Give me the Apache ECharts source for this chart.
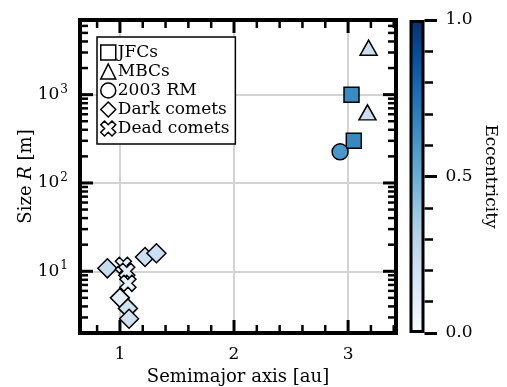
<!DOCTYPE html>
<html>
<head>
<meta charset="utf-8">
<script src="https://cdn.jsdelivr.net/npm/echarts@6/dist/echarts.min.js"></script>
<style>html,body{margin:0;padding:0;background:#fff}#c{width:507px;height:387px}</style>
</head>
<body>
<div id="c"></div>
<script>
// ---- data ----
const jfcA = [3.03, 3.05];
const jfcR = [1000, 300];
const jfcE = [0.65, 0.66];

const mbcA = [3.18, 3.17];
const mbcR = [3400, 630];
const mbcE = [0.22, 0.22];

const rmA = [2.93];
const rmR = [225];
const rmE = [0.6];

const darkA = [0.89, 1.22, 1.32, 1.0, 1.07, 1.08];
const darkR = [10.8, 14.5, 16, 5.0, 3.8, 2.9];
const darkE = [0.24, 0.22, 0.22, 0.1, 0.2, 0.2];

const deadA = [1.03, 1.06, 1.07];
const deadR = [11.7, 10, 7.3];
const deadE = [0.08, 0.1, 0.08];

const seriesNames = ['JFCs', 'MBCs', '2003 RM', 'Dark comets', 'Dead comets'];
const xMajorTicks = [1, 2, 3];
const xMinorTicks = [0.8, 1.2, 1.4, 1.6, 1.8, 2.2, 2.4, 2.6, 2.8, 3.2, 3.4];
const yMajorTicks = [10, 100, 1000];
const yMinorTicks = [2,3,4,5,6,7,8,9, 20,30,40,50,60,70,80,90, 200,300,400,500,600,700,800,900, 2000,3000,4000,5000,6000,7000];
const cbarTickLabels = ['0.0', '0.5', '1.0'];

const blues = ['#f7fbff','#deebf7','#c6dbef','#9ecae1','#6baed6','#4292c6','#2171b5','#08519c','#08306b'];

// ---- build ----
const FONT = 'DejaVu Serif';
const zip = (a, r, e) => a.map((v, i) => [v, r[i], e[i]]);
const xPath = 'path://M6 0L8 2L6 4L8 6L6 8L4 6L2 8L0 6L2 4L0 2L2 0L4 2Z';

const tickData = [];
xMajorTicks.forEach(v => tickData.push([v, 10, 0]));
xMinorTicks.forEach(v => tickData.push([v, 10, 1]));
yMajorTicks.forEach(v => tickData.push([1, v, 2]));
yMinorTicks.forEach(v => tickData.push([1, v, 3]));
tickData.push([1, 10, 4]);

function renderTicks(params, api) {
  const cs = params.coordSys;
  const kind = api.value(2);
  const p = api.coord([api.value(0), api.value(1)]);
  const s = {stroke: '#000', lineWidth: kind === 0 || kind === 2 ? 3 : 2.5};
  const L = (kind === 0 || kind === 2) ? 13 : 8;
  const top = cs.y, bot = cs.y + cs.height, lft = cs.x, rgt = cs.x + cs.width;
  const ch = [];
  if (kind === 0 || kind === 1) {
    ch.push({type: 'line', shape: {x1: p[0], y1: bot, x2: p[0], y2: bot - L}, style: s});
    ch.push({type: 'line', shape: {x1: p[0], y1: top, x2: p[0], y2: top + L}, style: s});
  } else if (kind === 2 || kind === 3) {
    ch.push({type: 'line', shape: {x1: lft, y1: p[1], x2: lft + L, y2: p[1]}, style: s});
    ch.push({type: 'line', shape: {x1: rgt, y1: p[1], x2: rgt - L, y2: p[1]}, style: s});
  } else {
    ch.push({type: 'rect', shape: {x: lft, y: top, width: cs.width, height: cs.height},
      style: {fill: 'none', stroke: '#000', lineWidth: 4}});
  }
  return {type: 'group', children: ch};
}

const scatterBase = {
  type: 'scatter', xAxisIndex: 0, yAxisIndex: 0, z: 5,
  itemStyle: {borderColor: '#000', borderWidth: 1.5, opacity: 1}
};

const chart = echarts.init(document.getElementById('c'), null, {renderer: 'canvas'});
chart.setOption({
  animation: false,
  backgroundColor: '#fff',
  textStyle: {fontFamily: FONT, color: '#000'},
  grid: [
    {left: 80, top: 20, width: 316, height: 313, outerBoundsMode: 'none', containLabel: false},
    {left: 409.5, top: 20, width: 15, height: 313, outerBoundsMode: 'none', containLabel: false}
  ],
  xAxis: [
    {
      gridIndex: 0, type: 'value', min: 0.65, max: 3.42, splitNumber: 3,
      name: 'Semimajor axis [au]', nameLocation: 'middle', nameGap: 35, nameMoveOverlap: false,
      nameTextStyle: {fontFamily: FONT, fontSize: 18, color: '#000'},
      axisLine: {show: false}, axisTick: {show: false},
      splitLine: {show: true, lineStyle: {color: '#d3d3d3', width: 2}},
      axisLabel: {
        margin: 13, fontFamily: FONT, fontSize: 17, color: '#000',
        showMinLabel: false, showMaxLabel: false,
        formatter: v => (Math.abs(v - Math.round(v)) < 1e-9 ? String(Math.round(v)) : '')
      }
    },
    {
      gridIndex: 1, type: 'category', data: ['e'], show: false
    }
  ],
  yAxis: [
    {
      gridIndex: 0, type: 'log', logBase: 10, min: 2, max: 7000,
      name: '{a|Size }{i|R}{a| [m]}', nameLocation: 'middle', nameGap: 45, nameRotate: 90,
      nameMoveOverlap: false,
      nameTextStyle: {
        rich: {
          a: {fontFamily: FONT, fontSize: 18, color: '#000'},
          i: {fontFamily: FONT, fontSize: 18, fontStyle: 'italic', color: '#000'}
        }
      },
      axisLine: {show: false}, axisTick: {show: false},
      splitLine: {show: true, lineStyle: {color: '#d3d3d3', width: 2}},
      axisLabel: {
        margin: 12, showMinLabel: false, showMaxLabel: false,
        formatter: v => {
          const l = Math.log10(v);
          if (Math.abs(l - Math.round(l)) > 1e-6) return '';
          return '{b|10}{s|' + Math.round(l) + '}';
        },
        rich: {
          b: {fontFamily: FONT, fontSize: 17, color: '#000'},
          s: {fontFamily: FONT, fontSize: 12, color: '#000', padding: [0, 0, 10, 1]}
        }
      }
    },
    {
      gridIndex: 1, type: 'value', min: 0, max: 1, interval: 0.5, position: 'right',
      name: 'Eccentricity', nameLocation: 'middle', nameGap: 57, nameRotate: -90,
      nameMoveOverlap: false,
      nameTextStyle: {fontFamily: FONT, fontSize: 17, color: '#000'},
      axisLine: {show: false},
      axisTick: {show: true, inside: false, length: 12.5, lineStyle: {color: '#000', width: 3}},
      minorTick: {show: true, splitNumber: 5, length: 8.5, lineStyle: {color: '#000', width: 2.5}},
      splitLine: {show: false},
      axisLabel: {
        margin: 21, fontFamily: FONT, fontSize: 17, color: '#000',
        formatter: v => cbarTickLabels[Math.round(v * 2)]
      }
    }
  ],
  visualMap: {
    type: 'continuous', show: false, min: 0, max: 1, dimension: 2,
    seriesIndex: [0, 1, 2, 3, 4],
    inRange: {color: blues}
  },
  legend: {
    orient: 'vertical', left: 97, top: 37,
    backgroundColor: '#fff', borderColor: '#000', borderWidth: 1.5, borderRadius: 0,
    padding: [7, 6, 7, 3], itemGap: 2, itemWidth: 15, itemHeight: 15,
    textStyle: {fontFamily: FONT, fontSize: 17, lineHeight: 17, color: '#000', padding: [0, 0, 0, -3]},
    selectedMode: false,
    data: [
      {name: 'JFCs', icon: 'rect', itemStyle: {color: '#fff', borderColor: '#000', borderWidth: 1.5}},
      {name: 'MBCs', icon: 'triangle', itemStyle: {color: '#fff', borderColor: '#000', borderWidth: 1.5}},
      {name: '2003 RM', icon: 'circle', itemStyle: {color: '#fff', borderColor: '#000', borderWidth: 1.5}},
      {name: 'Dark comets', icon: 'diamond', itemStyle: {color: '#fff', borderColor: '#000', borderWidth: 1.5}},
      {name: 'Dead comets', icon: xPath, itemStyle: {color: '#fff', borderColor: '#000', borderWidth: 1.5}}
    ]
  },
  series: [
    Object.assign({}, scatterBase, {name: seriesNames[0], symbol: 'rect', symbolSize: 15, data: zip(jfcA, jfcR, jfcE)}),
    Object.assign({}, scatterBase, {name: seriesNames[1], symbol: 'triangle', symbolSize: [17, 15], data: zip(mbcA, mbcR, mbcE)}),
    Object.assign({}, scatterBase, {name: seriesNames[2], symbol: 'circle', symbolSize: 16, data: zip(rmA, rmR, rmE)}),
    Object.assign({}, scatterBase, {name: seriesNames[3], symbol: 'diamond', symbolSize: 19, data: zip(darkA, darkR, darkE)}),
    Object.assign({}, scatterBase, {name: seriesNames[4], symbol: xPath, symbolSize: 16, data: zip(deadA, deadR, deadE)}),
    {
      type: 'custom', name: 'ticks', xAxisIndex: 0, yAxisIndex: 0, z: 10, clip: false, silent: true,
      renderItem: renderTicks, data: tickData
    },
    {
      type: 'bar', name: 'cbar', xAxisIndex: 1, yAxisIndex: 1, barWidth: '100%', silent: true,
      data: [1],
      itemStyle: {
        borderColor: '#000', borderWidth: 3,
        color: new echarts.graphic.LinearGradient(0, 1, 0, 0,
          blues.map((c, i) => ({offset: i / (blues.length - 1), color: c})))
      }
    }
  ]
});
</script>
</body>
</html>
